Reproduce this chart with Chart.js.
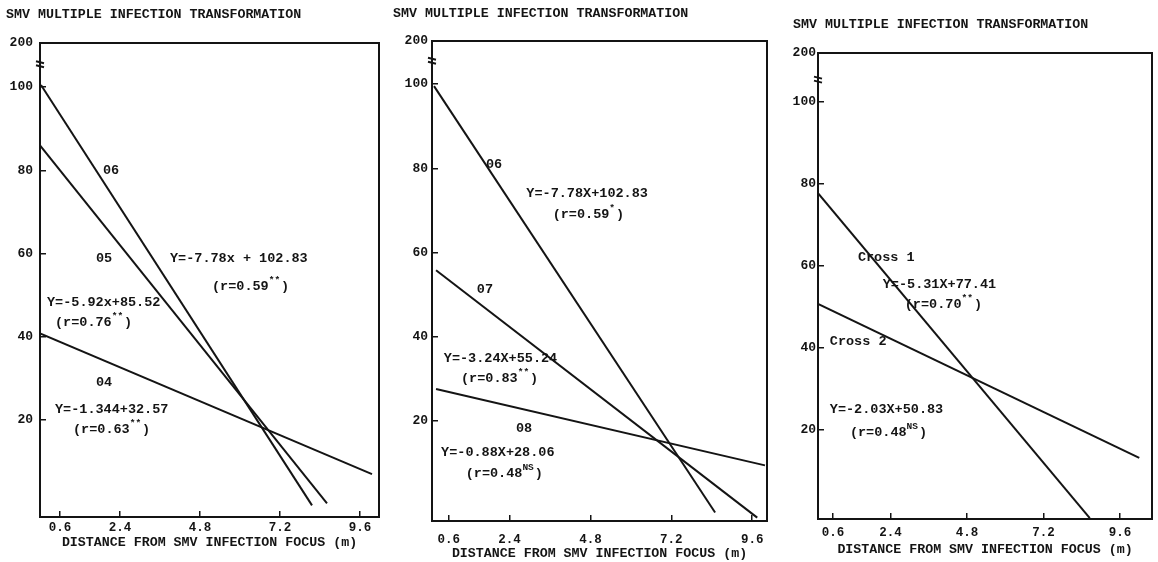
<!DOCTYPE html>
<html>
<head>
<meta charset="utf-8">
<script src="https://cdn.jsdelivr.net/npm/chart.js@4/dist/chart.umd.min.js"></script>
<style>
  body { margin: 0; background: #fff; width: 1158px; height: 562px; position: relative; overflow: hidden; }
  .panel { position: absolute; top: 0; }
</style>
</head>
<body>
<div class="panel" id="w1"><canvas id="c1" width="388" height="562"></canvas></div>
<div class="panel" id="w2"><canvas id="c2" width="384" height="562"></canvas></div>
<div class="panel" id="w3"><canvas id="c3" width="386" height="562"></canvas></div>
<script>
// tick values shared by the three panels
const xTicks = [0.6, 2.4, 4.8, 7.2, 9.6];
const yTicks = [20, 40, 60, 80, 100];
const yTopLabel = '200';
const chartTitle = 'SMV MULTIPLE INFECTION TRANSFORMATION';
const xAxisTitle = 'DISTANCE FROM SMV INFECTION FOCUS (m)';

// panel 1 - regression lines, read at both ends [distance, value]
const p1Names = ['06', '05', '04'];
const p1Start = [[0.03, 100.5], [0.0, 86.0], [0.0, 40.8]];
const p1End = [[8.16, -0.5], [8.61, 0.0], [9.96, 7.0]];

// panel 2
const p2Names = ['06', '07', '08'];
const p2Start = [[0.16, 99.5], [0.22, 55.8], [0.22, 27.6]];
const p2End = [[8.5, -1.7], [9.75, -2.9], [9.98, 9.5]];

// panel 3
const p3Names = ['Cross 1', 'Cross 2'];
const p3Start = [[0.13, 77.8], [0.13, 50.8]];
const p3End = [[8.65, -1.5], [10.2, 13.2]];

// text written on the plots (x, y in axis units)
const p1Notes = [
  { x: 1.89, y: 80.0, text: '06' },
  { x: 1.68, y: 58.7, text: '05' },
  { x: 3.9, y: 58.7, text: 'Y=-7.78x + 102.83' },
  { x: 5.16, y: 52.0, text: '(r=0.59', sup: '**', tail: ')' },
  { x: 0.21, y: 48.3, text: 'Y=-5.92x+85.52' },
  { x: 0.45, y: 43.5, text: '(r=0.76', sup: '**', tail: ')' },
  { x: 1.68, y: 28.9, text: '04' },
  { x: 0.45, y: 22.4, text: 'Y=-1.344+32.57' },
  { x: 0.99, y: 17.8, text: '(r=0.63', sup: '**', tail: ')' }
];
const p2Notes = [
  { x: 1.7, y: 80.8, text: '06' },
  { x: 2.9, y: 74.1, text: 'Y=-7.78X+102.83' },
  { x: 3.68, y: 68.9, text: '(r=0.59', sup: '*', tail: ')' },
  { x: 1.43, y: 51.3, text: '07' },
  { x: 0.45, y: 34.9, text: 'Y=-3.24X+55.24' },
  { x: 0.96, y: 30.2, text: '(r=0.83', sup: '**', tail: ')' },
  { x: 2.59, y: 18.3, text: '08' },
  { x: 0.37, y: 12.6, text: 'Y=-0.88X+28.06' },
  { x: 1.1, y: 7.6, text: '(r=0.48', sup: 'NS', tail: ')' }
];
const p3Notes = [
  { x: 1.38, y: 62.0, text: 'Cross 1' },
  { x: 2.16, y: 55.4, text: 'Y=-5.31X+77.41' },
  { x: 2.85, y: 50.5, text: '(r=0.70', sup: '**', tail: ')' },
  { x: 0.5, y: 41.5, text: 'Cross 2' },
  { x: 0.5, y: 24.9, text: 'Y=-2.03X+50.83' },
  { x: 1.13, y: 19.5, text: '(r=0.48', sup: 'NS', tail: ')' }
];

const INK = '#141414';
const MONO = '"Liberation Mono", "DejaVu Sans Mono", monospace';
const NOTE_FONT = 'bold 13.5px ' + MONO;

// draws the panel title, the boxed frame, axis break and notes
const paperText = {
  id: 'paperText',
  afterDraw(chart, args, opts) {
    const ctx = chart.ctx;
    const xs = chart.scales.x, ys = chart.scales.y;
    const a = chart.chartArea;
    ctx.save();
    ctx.fillStyle = INK;
    ctx.strokeStyle = INK;
    ctx.textBaseline = 'middle';
    ctx.textAlign = 'left';

    ctx.font = 'bold 13.3px ' + MONO;
    ctx.fillText(chartTitle, opts.titleX, opts.titleY);

    ctx.lineWidth = 2;
    ctx.strokeRect(a.left, a.top, a.right - a.left, a.bottom - a.top);

    // break mark on the y axis
    const by = ys.getPixelForValue(105.5);
    ctx.lineWidth = 2;
    ctx.beginPath();
    ctx.moveTo(a.left - 4, by - 3); ctx.lineTo(a.left + 4, by - 1);
    ctx.moveTo(a.left - 4, by + 1); ctx.lineTo(a.left + 4, by + 3);
    ctx.stroke();

    opts.notes.forEach(n => {
      const px = xs.getPixelForValue(n.x);
      const py = ys.getPixelForValue(n.y);
      ctx.font = NOTE_FONT;
      ctx.fillText(n.text, px, py);
      if (n.sup) {
        let w = ctx.measureText(n.text).width;
        ctx.font = 'bold 9.5px ' + MONO;
        ctx.fillText(n.sup, px + w, py - 6);
        w += ctx.measureText(n.sup).width + 1;
        ctx.font = NOTE_FONT;
        ctx.fillText(n.tail, px + w, py);
      }
    });
    ctx.restore();
  }
};

function makePanel(cfg, names, starts, ends, notes) {
  const wrap = document.getElementById(cfg.wrap);
  wrap.style.left = cfg.left + 'px';
  const canvas = document.getElementById(cfg.id);
  const W = canvas.width, H = canvas.height;

  const datasets = names.map((name, i) => ({
    label: name,
    data: [
      { x: starts[i][0], y: starts[i][1] },
      { x: ends[i][0], y: ends[i][1] }
    ],
    showLine: true,
    borderColor: INK,
    borderWidth: 2,
    pointRadius: 0
  }));

  return new Chart(canvas, {
    type: 'scatter',
    data: { datasets: datasets },
    options: {
      responsive: false,
      animation: false,
      layout: {
        padding: { left: 0, top: cfg.plotTop, right: W - (cfg.plotRight - cfg.left), bottom: 0 }
      },
      plugins: {
        legend: { display: false },
        tooltip: { enabled: false },
        paperText: { notes: notes, titleX: cfg.titleX - cfg.left, titleY: cfg.titleY }
      },
      scales: {
        x: {
          type: 'linear',
          min: cfg.xMin,
          max: cfg.xMax,
          afterBuildTicks: s => { s.ticks = xTicks.map(v => ({ value: v })); },
          afterFit: s => { s.height = H - cfg.plotBottom; },
          ticks: {
            color: INK,
            padding: 2,
            // tall line box pushes the labels down without widening the side padding
            font: { family: MONO, size: 12.5, weight: 'bold', lineHeight: cfg.xTickLH },
            callback: v => Number(v).toFixed(1)
          },
          grid: { drawOnChartArea: false, drawTicks: true, tickLength: -6, color: INK, lineWidth: 1.5 },
          border: { display: true, color: INK, width: 2 },
          title: {
            display: true,
            text: xAxisTitle,
            color: INK,
            padding: { top: 0, bottom: cfg.xTitlePad },
            font: { family: MONO, size: 13.3, weight: 'bold', lineHeight: 1.2 }
          }
        },
        y: {
          type: 'linear',
          min: cfg.yMin,
          max: cfg.yMax,
          afterBuildTicks: s => { s.ticks = yTicks.concat([cfg.yMax]).map(v => ({ value: v })); },
          afterFit: s => { s.width = cfg.plotLeft - cfg.left; },
          ticks: {
            color: INK,
            padding: cfg.yTickPad,
            font: { family: MONO, size: 13, weight: 'bold' },
            callback: v => (v === cfg.yMax ? yTopLabel : String(v))
          },
          grid: { drawOnChartArea: false, drawTicks: true, tickLength: -6, color: INK, lineWidth: 1.5 },
          border: { display: true, color: INK, width: 2 }
        }
      }
    },
    plugins: [paperText]
  });
}

makePanel({ wrap: 'w1', id: 'c1', left: 0, plotLeft: 40, plotRight: 379, plotTop: 43, plotBottom: 517,
  xMin: 0, xMax: 10.17, yMin: -3.3, yMax: 110.6, xTickLH: 2.4, xTitlePad: 11, yTickPad: 13,
  titleX: 6, titleY: 15 }, p1Names, p1Start, p1End, p1Notes);

makePanel({ wrap: 'w2', id: 'c2', left: 388, plotLeft: 432, plotRight: 767, plotTop: 41, plotBottom: 521,
  xMin: 0.1, xMax: 10.04, yMin: -3.7, yMax: 110.2, xTickLH: 3.6, xTitlePad: 0, yTickPad: 10,
  titleX: 393, titleY: 14 }, p2Names, p2Start, p2End, p2Notes);

makePanel({ wrap: 'w3', id: 'c3', left: 772, plotLeft: 818, plotRight: 1152, plotTop: 53, plotBottom: 519,
  xMin: 0.13, xMax: 10.6, yMin: -1.7, yMax: 112, xTickLH: 2.9, xTitlePad: 4, yTickPad: 8,
  titleX: 793, titleY: 25 }, p3Names, p3Start, p3End, p3Notes);
</script>
</body>
</html>
